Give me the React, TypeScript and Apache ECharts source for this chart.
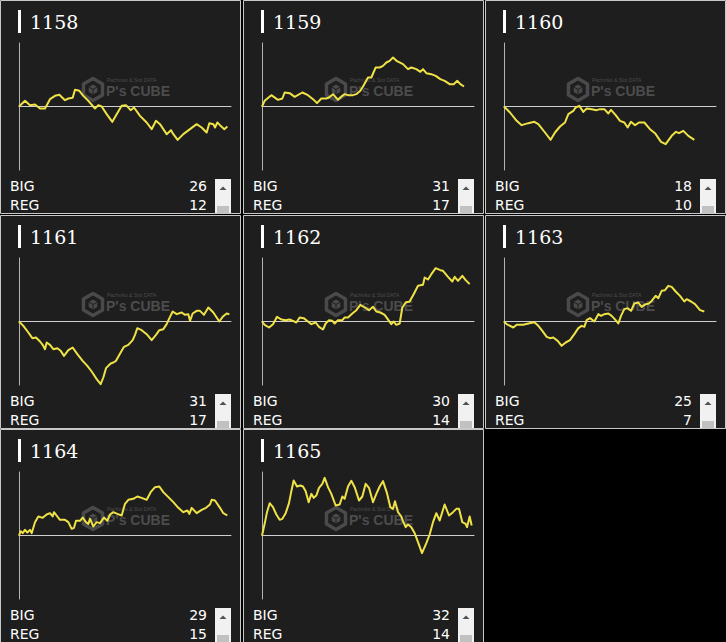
import React, { useEffect, useRef } from "react";
import * as echarts from "echarts";

// ---- data ----
const MACHINES = ["1158", "1159", "1160", "1161", "1162", "1163", "1164", "1165"];
const BIG_COUNTS = [26, 31, 18, 31, 30, 25, 29, 32];
const REG_COUNTS = [12, 17, 10, 17, 14, 7, 15, 14];

// [games, coin difference]
const S1158 = [[0,0],[180,340],[330,80],[480,120],[630,-120],[780,-120],[930,440],[1080,640],[1210,700],[1380,380],[1480,480],[1610,520],[1680,1000],[1810,940],[1930,640],[2080,340],[2280,-120],[2380,80],[2480,0],[2630,-460],[2800,-920],[2930,-460],[3080,40],[3210,80],[3350,-220],[3450,-60],[3630,-560],[3830,-960],[3980,-1360],[4110,-860],[4230,-1060],[4430,-1660],[4560,-1420],[4630,-1660],[4760,-2000],[4930,-1660],[5130,-1360],[5330,-1060],[5480,-1260],[5630,-1560],[5710,-1000],[5830,-1060],[5880,-1260],[5950,-960],[6030,-1120],[6160,-1360],[6250,-1200]];
const S1159 = [[0,0],[80,340],[280,680],[480,400],[610,480],[680,840],[830,800],[980,580],[1210,840],[1380,680],[1530,440],[1650,200],[1780,480],[1930,480],[2010,540],[2130,740],[2280,400],[2410,640],[2480,740],[2580,680],[2730,680],[2830,740],[2950,940],[3030,1200],[3180,1740],[3280,1740],[3410,2340],[3530,2340],[3630,2440],[3730,2640],[3830,2740],[3930,2940],[4050,2720],[4230,2540],[4380,2240],[4480,2340],[4630,2240],[4750,2080],[4830,2240],[4930,2000],[5080,1940],[5210,1840],[5350,1640],[5480,1540],[5630,1340],[5750,1340],[5860,1540],[5950,1340],[6060,1200]];
const S1160 = [[0,0],[180,-360],[380,-860],[530,-1120],[730,-1000],[910,-920],[1030,-1060],[1230,-1560],[1400,-2000],[1530,-1560],[1680,-1200],[1830,-960],[1930,-460],[2080,-260],[2150,-60],[2260,40],[2380,-320],[2480,-120],[2630,-160],[2780,-220],[2880,-160],[3010,-160],[3130,-420],[3210,-200],[3350,-520],[3480,-860],[3610,-960],[3710,-1260],[3810,-920],[3930,-1120],[4050,-960],[4210,-960],[4380,-1360],[4530,-1600],[4710,-2120],[4850,-2260],[5030,-1760],[5160,-1520],[5250,-1600],[5380,-1460],[5530,-1760],[5710,-2000]];
const S1161 = [[0,0],[130,-260],[280,-660],[400,-1000],[510,-960],[630,-1200],[710,-1400],[780,-1660],[830,-1260],[930,-1400],[1030,-1660],[1150,-1600],[1250,-1760],[1350,-2060],[1480,-1720],[1610,-1560],[1750,-1960],[1910,-2360],[2050,-2660],[2180,-3000],[2330,-3460],[2450,-3760],[2530,-3360],[2610,-2800],[2750,-2520],[2830,-2460],[2910,-2360],[3050,-1860],[3150,-1520],[3280,-1400],[3410,-1120],[3480,-800],[3550,-400],[3680,-520],[3830,-760],[3980,-1120],[4110,-800],[4210,-520],[4330,-460],[4430,-160],[4530,280],[4610,600],[4730,440],[4880,540],[4980,400],[5080,440],[5130,40],[5210,480],[5330,640],[5430,640],[5550,400],[5680,840],[5830,540],[6010,0],[6110,280],[6230,480],[6310,440]];
const S1162 = [[0,0],[80,-200],[210,-360],[330,-160],[450,280],[580,120],[710,80],[830,120],[930,40],[1030,-60],[1130,240],[1250,200],[1380,0],[1480,-160],[1610,-60],[1710,-320],[1830,-480],[1910,-120],[2010,80],[2110,40],[2180,-120],[2280,80],[2410,80],[2480,240],[2580,240],[2710,480],[2830,680],[2950,1000],[3080,840],[3210,680],[3330,880],[3430,600],[3550,540],[3680,400],[3810,40],[3880,-160],[3950,0],[4030,-200],[4130,-120],[4210,840],[4310,1140],[4430,1200],[4550,1640],[4680,2140],[4830,2200],[4880,2640],[4980,2520],[5080,2840],[5210,3200],[5350,3080],[5430,3040],[5580,2680],[5710,2400],[5780,2680],[5880,2440],[6010,2740],[6110,2480],[6230,2240]];
const S1163 = [[0,0],[80,-160],[280,-360],[380,-200],[580,-200],[730,-120],[910,-40],[1030,-260],[1150,-560],[1280,-920],[1380,-1000],[1480,-960],[1610,-1160],[1730,-1460],[1850,-1260],[1980,-1120],[2110,-760],[2230,-400],[2330,-260],[2410,-320],[2480,80],[2580,200],[2710,0],[2830,440],[2910,340],[3010,440],[3130,480],[3230,340],[3350,80],[3430,-120],[3510,340],[3610,740],[3710,800],[3810,640],[3910,1080],[4030,1140],[4130,880],[4250,1040],[4350,1080],[4430,1240],[4550,1540],[4630,1400],[4730,1840],[4830,1880],[4930,2140],[5030,2080],[5150,1800],[5280,1540],[5410,1200],[5480,1340],[5610,1200],[5730,1040],[5880,680],[6010,600]];
const S1164 = [[0,0],[50,260],[110,140],[180,340],[250,180],[330,340],[380,140],[480,800],[580,1140],[710,1060],[830,1260],[930,1340],[1010,1140],[1050,1400],[1150,1140],[1230,940],[1380,940],[1480,800],[1580,400],[1650,460],[1710,880],[1830,880],[1910,1080],[2010,800],[2080,700],[2130,1000],[2230,540],[2330,800],[2430,740],[2550,1080],[2650,880],[2730,1260],[2830,1400],[2950,1300],[3080,1200],[3180,1900],[3280,2140],[3430,2200],[3550,2340],[3680,2260],[3830,2140],[3950,2600],[4080,2900],[4210,2940],[4330,2600],[4480,2300],[4630,2000],[4780,1660],[4930,1400],[5050,1500],[5110,1300],[5180,1660],[5330,1340],[5480,1540],[5610,1660],[5730,1860],[5780,2140],[5880,2100],[6030,1660],[6130,1340],[6250,1200]];
const S1165 = [[0,0],[80,700],[150,1400],[230,1940],[330,1700],[430,1260],[530,940],[610,1000],[710,1340],[810,1940],[880,2660],[950,3300],[1050,2940],[1150,3000],[1230,2940],[1310,2660],[1400,2000],[1480,2500],[1550,2260],[1630,2400],[1710,2860],[1810,3100],[1880,3460],[1980,2900],[2080,2500],[2210,1800],[2330,1860],[2410,2340],[2480,2200],[2580,2940],[2680,3280],[2780,2900],[2910,2100],[3010,2340],[3110,3100],[3210,2860],[3330,2000],[3430,2500],[3530,2940],[3630,3260],[3750,2540],[3850,1700],[3930,1600],[3990,2060],[4080,1400],[4180,1140],[4230,860],[4310,500],[4380,660],[4480,500],[4580,140],[4680,-400],[4800,-1060],[4930,-460],[5030,60],[5130,800],[5230,1340],[5330,900],[5480,1860],[5610,1200],[5730,1400],[5830,1600],[5910,1600],[6010,800],[6110,700],[6150,500],[6230,1140],[6290,600]];
const SERIES = [S1158, S1159, S1160, S1161, S1162, S1163, S1164, S1165];

const X_MAX = 6360;
const Y_LIMIT = 3810;

// ---- layout ----
const COL_X = [0, 243, 485];
const ROW_Y = [0, 215, 429];
const PANEL_W = 241;
const PANEL_H = 214;

export default function App() {
  const ref = useRef<HTMLDivElement>(null);

  useEffect(() => {
    if (!ref.current) return;
    const chart = echarts.init(ref.current, null, { renderer: "svg" });

    const grids: any[] = [];
    const xAxes: any[] = [];
    const yAxes: any[] = [];
    const series: any[] = [];
    const graphics: any[] = [];

    MACHINES.forEach((id, i) => {
      const ox = COL_X[i % 3];
      const oy = ROW_Y[Math.floor(i / 3)];

      grids.push({ left: ox + 19, top: oy + 43, width: 212, height: 127, containLabel: false });
      xAxes.push({
        gridIndex: i, type: "value", min: 0, max: X_MAX,
        axisLine: { show: true, onZero: true, lineStyle: { color: "#cfcfcf", width: 1 } },
        axisTick: { show: false }, axisLabel: { show: false }, splitLine: { show: false },
      });
      yAxes.push({
        gridIndex: i, type: "value", min: -Y_LIMIT, max: Y_LIMIT,
        axisLine: { show: true, onZero: false, lineStyle: { color: "#b4b4b4", width: 1 } },
        axisTick: { show: false }, axisLabel: { show: false }, splitLine: { show: false },
      });
      series.push({
        type: "line", xAxisIndex: i, yAxisIndex: i, data: SERIES[i],
        showSymbol: false, symbol: "none", silent: true, z: 5,
        lineStyle: { color: "#efe246", width: 2, join: "round" },
      });

      // panel background
      graphics.push({
        type: "rect", z: -10, silent: true,
        shape: { x: ox + 0.5, y: oy + 0.5, width: PANEL_W - 1, height: PANEL_H - 1 },
        style: { fill: "#1e1e1e", stroke: "#c8c8c8", lineWidth: 1 },
      });
      // title bar + title
      graphics.push({
        type: "rect", z: 1, silent: true,
        shape: { x: ox + 18, y: oy + 10, width: 3, height: 23 },
        style: { fill: "#ffffff" },
      });
      graphics.push({
        type: "text", z: 1, silent: true, x: ox + 30, y: oy + 22,
        style: { text: id, fill: "#ffffff", fontSize: 19, fontFamily: "DejaVu Serif", verticalAlign: "middle", align: "left" },
      });

      // watermark
      const cx = ox + 93, cy = oy + 89.5;
      const hex = (r: number) => [0, 1, 2, 3, 4, 5].map((k) => {
        const a = (Math.PI / 180) * (60 * k - 90);
        return [cx + r * Math.cos(a), cy + r * Math.sin(a)];
      });
      graphics.push({
        type: "polygon", z: 0, silent: true, shape: { points: hex(11) },
        style: { fill: "none", stroke: "#4a4a4a", lineWidth: 3.5, lineJoin: "round" },
      });
      graphics.push({
        type: "polygon", z: 0, silent: true, shape: { points: hex(5) },
        style: { fill: "#4a4a4a" },
      });
      graphics.push({
        type: "polyline", z: 0, silent: true,
        shape: { points: [[cx - 4.3, cy - 2.5], [cx, cy], [cx + 4.3, cy - 2.5]] },
        style: { stroke: "#1e1e1e", lineWidth: 1, fill: "none" },
      });
      graphics.push({
        type: "line", z: 0, silent: true,
        shape: { x1: cx, y1: cy, x2: cx, y2: cy + 5 },
        style: { stroke: "#1e1e1e", lineWidth: 1 },
      });
      graphics.push({
        type: "text", z: 0, silent: true, x: ox + 106, y: oy + 91,
        style: { text: "P's CUBE", fill: "#4c4c4c", fontSize: 14, fontWeight: "bold", fontFamily: "Liberation Sans", verticalAlign: "middle" },
      });
      graphics.push({
        type: "text", z: 0, silent: true, x: ox + 107, y: oy + 80,
        style: { text: "Pachinko & Slot DATA", fill: "#4c4c4c", fontSize: 5, fontFamily: "Liberation Sans", verticalAlign: "middle" },
      });

      // BIG / REG rows
      graphics.push({
        type: "text", z: 1, silent: true, x: ox + 10, y: oy + 186,
        style: { text: "BIG", fill: "#ffffff", fontSize: 14, fontFamily: "DejaVu Sans", verticalAlign: "middle" },
      });
      graphics.push({
        type: "text", z: 1, silent: true, x: ox + 10, y: oy + 205,
        style: { text: "REG", fill: "#ffffff", fontSize: 14, fontFamily: "DejaVu Sans", verticalAlign: "middle" },
      });
      graphics.push({
        type: "text", z: 1, silent: true, x: ox + 207, y: oy + 186,
        style: { text: String(BIG_COUNTS[i]), fill: "#ffffff", fontSize: 14, fontFamily: "DejaVu Sans", verticalAlign: "middle", align: "right" },
      });
      graphics.push({
        type: "text", z: 1, silent: true, x: ox + 207, y: oy + 205,
        style: { text: String(REG_COUNTS[i]), fill: "#ffffff", fontSize: 14, fontFamily: "DejaVu Sans", verticalAlign: "middle", align: "right" },
      });

      // scrollbar
      graphics.push({
        type: "rect", z: 1, silent: true,
        shape: { x: ox + 215, y: oy + 179, width: 16, height: PANEL_H - 180 },
        style: { fill: "#f1f1f1" },
      });
      graphics.push({
        type: "polygon", z: 2, silent: true,
        shape: { points: [[ox + 219.5, oy + 190], [ox + 226.5, oy + 190], [ox + 223, oy + 186.5]] },
        style: { fill: "#505050" },
      });
      graphics.push({
        type: "rect", z: 2, silent: true,
        shape: { x: ox + 217, y: oy + 206, width: 12, height: PANEL_H - 207 },
        style: { fill: "#c1c1c1" },
      });
    });

    chart.setOption({
      animation: false,
      backgroundColor: "#000000",
      grid: grids,
      xAxis: xAxes,
      yAxis: yAxes,
      series,
      graphic: { elements: graphics },
    });

    return () => chart.dispose();
  }, []);

  return (
    <div
      ref={ref}
      style={{ position: "fixed", left: 0, top: 0, width: 726, height: 642, background: "#000" }}
    />
  );
}
